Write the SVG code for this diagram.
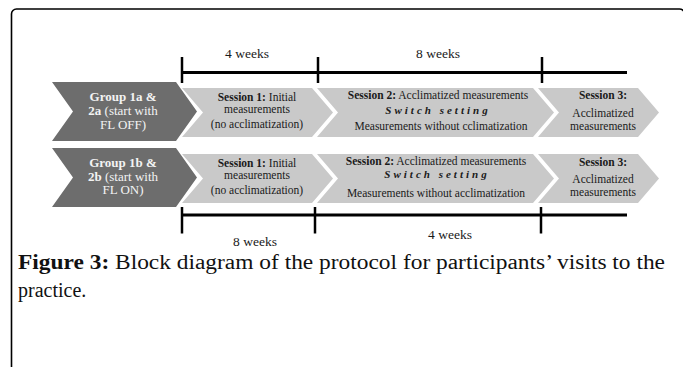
<svg xmlns="http://www.w3.org/2000/svg" width="683" height="367" viewBox="0 0 683 367">
<style>
.frame{fill:none;stroke:#000;stroke-width:1.6}
.grp{fill:#6d6d6d}
.ses{fill:#c9c9c9}
.gt{font-family:"Liberation Serif","Times New Roman",serif;font-size:13px;fill:#f3f3f3;text-anchor:middle}
.st{font-family:"Liberation Serif","Times New Roman",serif;font-size:11.5px;fill:#1a1a1a;text-anchor:middle}
.sw{font-weight:bold;font-style:italic;letter-spacing:3px;font-size:11px}
.b{font-weight:bold}
.wk{font-family:"Liberation Serif","Times New Roman",serif;font-size:13.5px;fill:#1a1a1a;text-anchor:middle}
.tl{stroke:#000;stroke-width:3;fill:none}
.tk{stroke:#000;stroke-width:2.5;fill:none}
.cap{font-family:"Liberation Serif","Times New Roman",serif;font-size:20px;fill:#111}
</style>
<rect class="frame" x="11.5" y="9" width="673" height="380" rx="5"/>

<g id="group1a">
<polygon class="grp" points="52,82 176,82 197,111.5 176,141 52,141 73,111.5"/>
<text class="gt"><tspan class="b" x="123" y="101">Group 1a &amp;</tspan><tspan x="123" y="115"><tspan class="b">2a</tspan> (start with</tspan><tspan x="123" y="128.5">FL OFF)</tspan></text>
</g>
<g id="session1a">
<polygon class="ses" points="182,88 312,88 333,112.5 312,137 182,137 203,112.5"/>
<text class="st"><tspan x="257" y="100.5"><tspan class="b">Session 1:</tspan> Initial</tspan><tspan x="257" y="113">measurements</tspan><tspan x="257" y="128">(no acclimatization)</tspan></text>
</g>
<g id="session2a">
<polygon class="ses" points="317,88 533,88 554,112.5 533,137 317,137 338,112.5"/>
<text class="st"><tspan x="438" y="98.5"><tspan class="b">Session 2:</tspan> Acclimatized measurements</tspan><tspan class="sw" x="438" y="113.5">Switch setting</tspan><tspan x="441" y="130">Measurements without cclimatization</tspan></text>
</g>
<g id="session3a">
<polygon class="ses" points="538,88 638,88 659,112.5 638,137 538,137 559,112.5"/>
<text class="st"><tspan class="b" x="603" y="99">Session 3:</tspan><tspan x="603" y="117">Acclimatized</tspan><tspan x="603" y="130">measurements</tspan></text>
</g>

<g id="group1b">
<polygon class="grp" points="52,148 176,148 197,177.5 176,207 52,207 73,177.5"/>
<text class="gt"><tspan class="b" x="123" y="167">Group 1b &amp;</tspan><tspan x="123" y="180.5"><tspan class="b">2b</tspan> (start with</tspan><tspan x="123" y="194">FL ON)</tspan></text>
</g>
<g id="session1b">
<polygon class="ses" points="182,154 312,154 333,178.5 312,203 182,203 203,178.5"/>
<text class="st"><tspan x="257" y="166.5"><tspan class="b">Session 1:</tspan> Initial</tspan><tspan x="257" y="179">measurements</tspan><tspan x="257" y="194">(no acclimatization)</tspan></text>
</g>
<g id="session2b">
<polygon class="ses" points="317,154 533,154 554,178.5 533,203 317,203 338,178.5"/>
<text class="st"><tspan x="436" y="164.5"><tspan class="b">Session 2:</tspan> Acclimatized measurements</tspan><tspan class="sw" x="437" y="177.5">Switch setting</tspan><tspan x="436" y="196.5">Measurements without acclimatization</tspan></text>
</g>
<g id="session3b">
<polygon class="ses" points="538,154 638,154 659,178.5 638,203 538,203 559,178.5"/>
<text class="st"><tspan class="b" x="603" y="166">Session 3:</tspan><tspan x="603" y="183">Acclimatized</tspan><tspan x="603" y="196">measurements</tspan></text>
</g>

<g id="connectors">
<line class="tl" x1="182" y1="72.5" x2="627" y2="72.5"/>
<line class="tk" x1="182" y1="57" x2="182" y2="83"/>
<line class="tk" x1="318" y1="57" x2="318" y2="83"/>
<line class="tk" x1="542" y1="57" x2="542" y2="83"/>
<line class="tl" x1="182" y1="215" x2="627" y2="215"/>
<line class="tk" x1="182" y1="207" x2="182" y2="233.5"/>
<line class="tk" x1="315" y1="207" x2="315" y2="233.5"/>
<line class="tk" x1="541" y1="207" x2="541" y2="233.5"/>
</g>
<g id="labels">
<text class="wk" x="247" y="58">4 weeks</text>
<text class="wk" x="438" y="58">8 weeks</text>
<text class="wk" x="255" y="246">8 weeks</text>
<text class="wk" x="450" y="238.5">4 weeks</text>
</g>
<g id="caption">
<text class="cap" x="18" y="269" textLength="647" lengthAdjust="spacingAndGlyphs"><tspan class="b">Figure 3:</tspan> Block diagram of the protocol for participants’ visits to the</text>
<text class="cap" x="18" y="297">practice.</text>
</g>
</svg>
